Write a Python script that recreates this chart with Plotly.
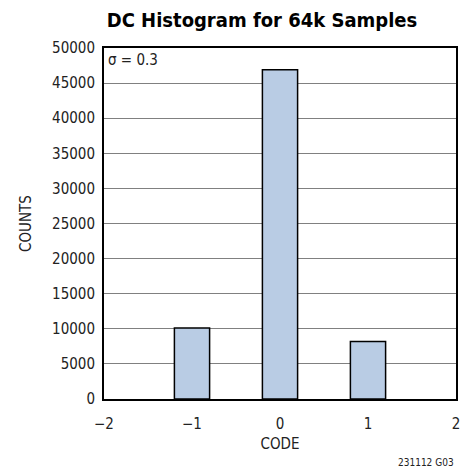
import plotly.graph_objects as go

codes = [-1, 0, 1]
counts = [10100, 46900, 8200]
x_ticks = [-2, -1, 0, 1, 2]
x_tick_labels = ["\u22122", "\u22121", "0", "1", "2"]
y_ticks = [0, 5000, 10000, 15000, 20000, 25000, 30000, 35000, 40000, 45000, 50000]
y_tick_labels = [str(v) for v in y_ticks]

FONT = "DejaVu Sans Condensed, Liberation Sans Narrow, sans-serif"

fig = go.Figure()
fig.add_trace(go.Bar(
    x=codes, y=counts, width=0.4,
    marker=dict(color="#b9cce4", line=dict(color="black", width=1.5)),
))

fig.update_layout(
    width=474, height=474,
    margin=dict(l=104, r=18, t=48, b=75, autoexpand=False),
    paper_bgcolor="white", plot_bgcolor="white",
    showlegend=False,
    font=dict(family=FONT, size=15, color="#222"),
    title=dict(text="<b>DC Histogram for 64k Samples</b>", x=262 / 474, xanchor="center",
               xref="container", y=1 - 20 / 474, yanchor="middle",
               font=dict(family=FONT, size=20, color="black")),
    xaxis=dict(range=[-2, 2], tickvals=x_ticks, ticktext=x_tick_labels,
               showgrid=False, zeroline=False, showline=True, linecolor="black",
               linewidth=2, mirror=True, ticks="outside", ticklen=10, tickcolor="white",
               automargin=False,
               title=dict(text="CODE", standoff=6, font=dict(size=15))),
    yaxis=dict(range=[0, 50000], tickvals=y_ticks, ticktext=y_tick_labels,
               showgrid=True, gridcolor="#808080",
               gridwidth=1.2, zeroline=False, showline=True, linecolor="black",
               linewidth=2, mirror=True, ticks="outside", ticklen=4, tickcolor="white",
               automargin=False,
               title=dict(text="COUNTS", standoff=17, font=dict(size=15))),
    annotations=[
        dict(text="\u03c3 = 0.3", x=0.005, y=0.998, xref="paper", yref="paper",
             xanchor="left", yanchor="top", showarrow=False,
             font=dict(family=FONT, size=15, color="#222"),
             bgcolor="white"),
        dict(text="231112 G03", x=1.0, y=-0.18, xref="paper", yref="paper",
             xanchor="right", yanchor="middle", showarrow=False,
             font=dict(family=FONT, size=10, color="#222")),
    ],
)

fig.write_html("out.html", config={"displayModeBar": False},
               post_script="document.body.style.margin='0';")
